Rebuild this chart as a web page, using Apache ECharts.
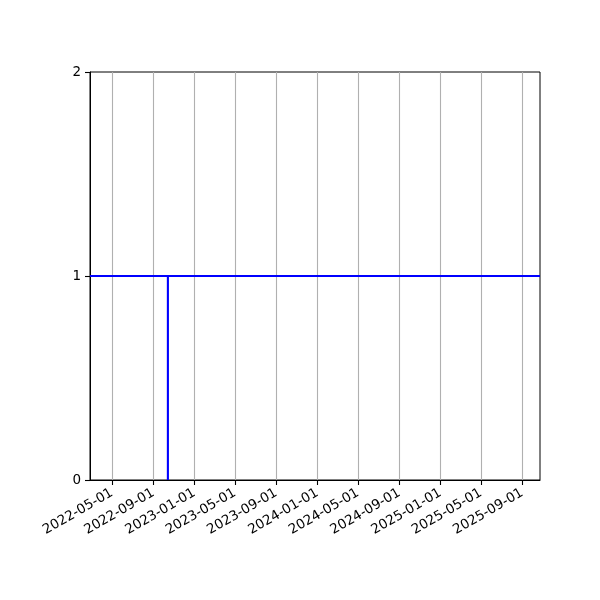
<!DOCTYPE html>
<html>
<head>
<meta charset="utf-8">
<script src="https://cdn.jsdelivr.net/npm/echarts@6/dist/echarts.min.js"></script>
<style>html,body{margin:0;padding:0;background:#fff}#c{width:600px;height:600px}</style>
</head>
<body>
<div id="c"></div>
<script>
var dates = ['2022-02-24T14:00:00', '2022-10-14', '2022-10-14', '2022-10-14', '2025-10-23T14:00:00'];
var values = [1, 1, 0, 1, 1];
var tickLabels = ['2022-05-01','2022-09-01','2023-01-01','2023-05-01','2023-09-01','2024-01-01','2024-05-01','2024-09-01','2025-01-01','2025-05-01','2025-09-01'];
var yTicks = [0, 1, 2];

var ts = function (s) { return new Date(s.length === 10 ? s + 'T00:00:00Z' : s + 'Z').getTime(); };
var tickValues = tickLabels.map(ts);
var pad = function (n) { return (n < 10 ? '0' : '') + n; };
var fmt = function (v) { var d = new Date(v); return d.getUTCFullYear() + '-' + pad(d.getUTCMonth() + 1) + '-' + pad(d.getUTCDate()); };

var chart = echarts.init(document.getElementById('c'), null, {renderer: 'canvas'});
chart.setOption({
  animation: false,
  backgroundColor: '#fff',
  grid: {left: 90, right: 60, top: 72, bottom: 120, show: true, borderColor: '#000', borderWidth: 1, backgroundColor: 'transparent', containLabel: false},
  xAxis: {
    type: 'value',
    min: ts(dates[0]),
    max: ts(dates[dates.length - 1]),
    axisLine: {show: true, onZero: false, lineStyle: {color: '#000', width: 1}},
    axisTick: {show: true, length: 5, lineStyle: {color: '#000', width: 1.1}, customValues: tickValues},
    splitLine: {show: true, lineStyle: {color: '#b0b0b0', width: 1.1}},
    axisLabel: {
      customValues: tickValues,
      rotate: 30,
      margin: 12,
      color: '#000',
      fontSize: 13.5,
      fontFamily: 'DejaVu Sans',
      hideOverlap: false,
      showMinLabel: true,
      showMaxLabel: true,
      formatter: fmt
    }
  },
  yAxis: {
    type: 'value',
    min: yTicks[0],
    max: yTicks[yTicks.length - 1],
    interval: 1,
    axisLine: {show: true, lineStyle: {color: '#000', width: 1}},
    axisTick: {show: true, length: 5, lineStyle: {color: '#000', width: 1.1}},
    splitLine: {show: false},
    axisLabel: {color: '#000', fontSize: 13.5, fontFamily: 'DejaVu Sans', margin: 9}
  },
  series: [{
    type: 'line',
    data: dates.map(function (d, i) { return [ts(d), values[i]]; }),
    showSymbol: false,
    symbol: 'none',
    lineStyle: {color: '#0000ff', width: 2.1},
    clip: true
  }]
});
</script>
</body>
</html>
